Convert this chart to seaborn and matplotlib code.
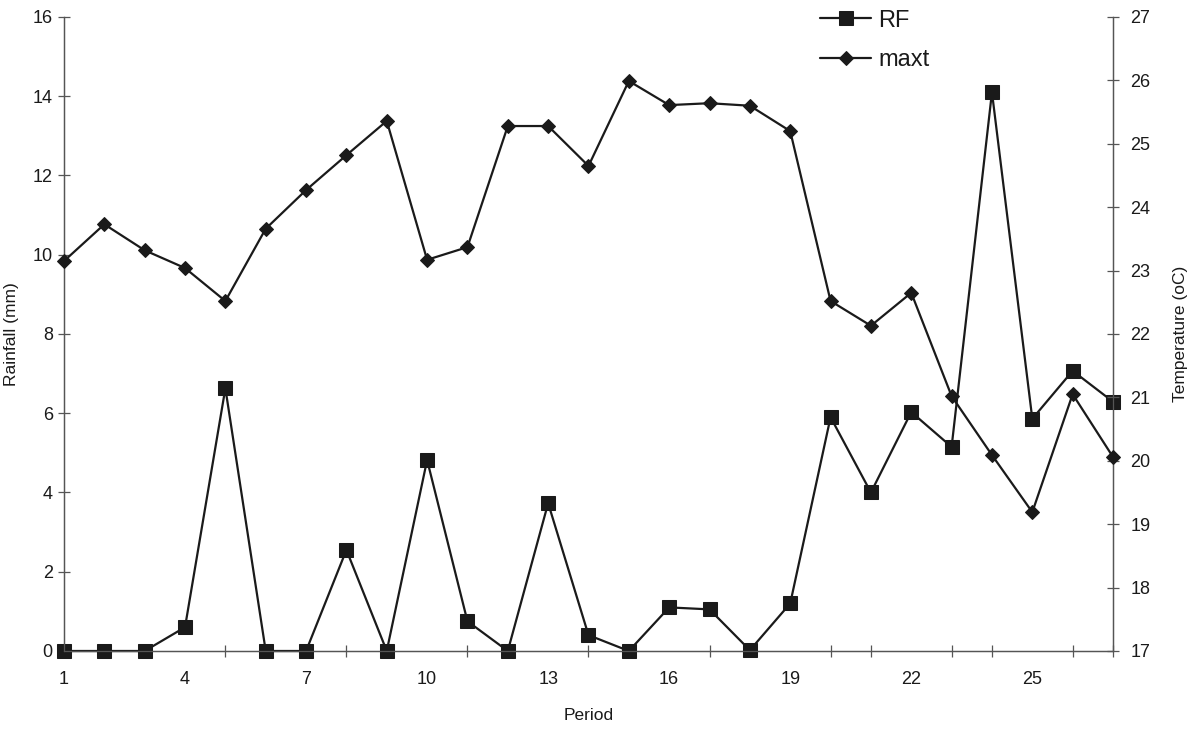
import matplotlib
matplotlib.use("Agg")
import matplotlib.pyplot as plt
import seaborn as sns
import pandas as pd
from matplotlib.ticker import MultipleLocator, FixedLocator

# Period index and the two measured series
period = list(range(1, 28))
rainfall_mm = [0.0, 0.0, 0.0, 0.6, 6.63, 0.0, 0.0, 2.55, 0.0, 4.82,
               0.75, 0.0, 3.73, 0.4, 0.0, 1.1, 1.05, 0.02, 1.2, 5.9,
               4.0, 6.03, 5.15, 14.1, 5.86, 7.07, 6.29]
max_temp_c = [23.15, 23.73, 23.32, 23.04, 22.52, 23.66, 24.27, 24.82, 25.36, 23.17,
              23.37, 25.28, 25.28, 24.65, 25.99, 25.61, 25.64, 25.6, 25.2, 22.52,
              22.13, 22.65, 21.02, 20.09, 19.19, 21.05, 20.06]

df = pd.DataFrame({"Period": period, "RF": rainfall_mm, "maxt": max_temp_c})

sns.set_theme(style="white")
plt.rcParams["font.family"] = ["Liberation Sans", "DejaVu Sans"]
ink = "#1a1a1a"

fig = plt.figure(figsize=(11.96, 7.35), dpi=100)
ax = fig.add_axes([0.0535, 0.1143, 0.8771, 0.8626])
ax2 = ax.twinx()

sns.lineplot(data=df, x="Period", y="RF", ax=ax, color=ink, linewidth=1.6,
             marker="s", markersize=10, markeredgecolor=ink, markerfacecolor=ink,
             label="RF", legend=False, clip_on=False, zorder=3)
sns.lineplot(data=df, x="Period", y="maxt", ax=ax2, color=ink, linewidth=1.6,
             marker="D", markersize=7.5, markeredgecolor=ink, markerfacecolor=ink,
             label="maxt", legend=False, clip_on=False, zorder=3)

ax.set_xlim(1, 27)
ax.set_ylim(0, 16)
ax2.set_ylim(17, 27)

ax.xaxis.set_major_locator(FixedLocator(list(range(1, 27, 3))))
ax.xaxis.set_minor_locator(MultipleLocator(1))
ax.yaxis.set_major_locator(MultipleLocator(2))
ax2.yaxis.set_major_locator(MultipleLocator(1))

for a in (ax, ax2):
    a.spines["top"].set_visible(False)
    for side in ("left", "right", "bottom"):
        a.spines[side].set_color("#555555")
        a.spines[side].set_linewidth(0.9)
    a.tick_params(colors="#555555", labelcolor=ink, labelsize=13,
                  direction="inout", length=9, width=0.9)
ax.tick_params(axis="x", which="minor", direction="inout", length=9,
               width=0.9, color="#555555", bottom=True)
ax.tick_params(axis="x", pad=10)
ax2.tick_params(axis="y", pad=8)

ax.set_xlabel("Period", fontsize=12.5, color=ink, labelpad=14)
ax.set_ylabel("Rainfall (mm)", fontsize=12.5, color=ink, labelpad=10)
ax2.set_ylabel("Temperature (oC)", fontsize=12.5, color=ink, labelpad=16)

handles = ax.get_lines()[:1] + ax2.get_lines()[:1]
leg = ax2.legend(handles, ["RF", "maxt"], loc="upper left",
                 bbox_to_anchor=(0.70, 1.045), frameon=False, fontsize=17,
                 handlelength=2.2, handletextpad=0.3, labelspacing=0.75)
for t in leg.get_texts():
    t.set_color(ink)

fig.savefig("out.png", dpi=100, facecolor="white")
